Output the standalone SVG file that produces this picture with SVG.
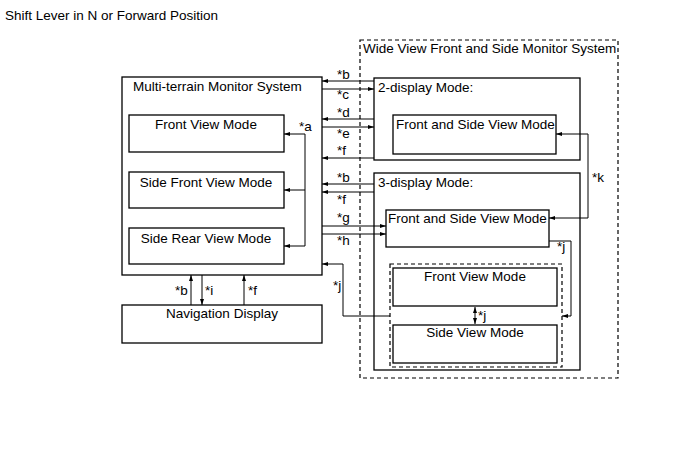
<svg xmlns="http://www.w3.org/2000/svg" width="690" height="465" viewBox="0 0 690 465">
<defs>
<marker id="ah" viewBox="0 0 6 4" refX="6" refY="2" markerWidth="6" markerHeight="4" markerUnits="userSpaceOnUse" orient="auto">
<path d="M0,0 L6,2 L0,4 Z" fill="#000"/>
</marker>
</defs>
<style>
text{font-family:"Liberation Sans",Arial,sans-serif;font-size:13.5px;fill:#000}
.box{fill:#fff;stroke:#000;stroke-width:1.3}
.dash{fill:none;stroke:#000;stroke-width:1.2;stroke-dasharray:4,3}
.ln{fill:none;stroke:#000;stroke-width:1}
.arr{fill:none;stroke:#000;stroke-width:1;marker-end:url(#ah)}
.mid{text-anchor:middle}
</style>
<rect width="690" height="465" fill="#fff"/>
<text x="5" y="20">Shift Lever in N or Forward Position</text>

<g id="wide-view-system">
<rect class="dash" x="360" y="40" width="258" height="338"/>
<text x="363" y="53">Wide View Front and Side Monitor System</text>
</g>

<g id="multi-terrain">
<rect class="box" x="122" y="77" width="200" height="198"/>
<text x="133" y="91">Multi-terrain Monitor System</text>
</g>
<g id="mt-front-view">
<rect class="box" x="129" y="115" width="155" height="37"/>
<text class="mid" x="206" y="129">Front View Mode</text>
</g>
<g id="mt-side-front-view">
<rect class="box" x="129" y="172" width="155" height="36"/>
<text class="mid" x="206" y="187">Side Front View Mode</text>
</g>
<g id="mt-side-rear-view">
<rect class="box" x="129" y="228" width="155" height="36"/>
<text class="mid" x="206" y="243">Side Rear View Mode</text>
</g>

<g id="two-display">
<rect class="box" x="374" y="78" width="206" height="82"/>
<text x="378" y="92">2-display Mode:</text>
</g>
<g id="two-front-side">
<rect class="box" x="393" y="115" width="163" height="39"/>
<text x="396" y="129">Front and Side View Mode</text>
</g>

<g id="three-display">
<rect class="box" x="374" y="173" width="206" height="197"/>
<text x="378" y="187">3-display Mode:</text>
</g>
<g id="three-front-side">
<rect class="box" x="386" y="210" width="163" height="37"/>
<text x="388" y="223">Front and Side View Mode</text>
</g>
<g id="three-group">
<rect class="dash" x="390" y="264" width="172" height="103"/>
</g>
<g id="three-front-view">
<rect class="box" x="393" y="268" width="164" height="38"/>
<text class="mid" x="475" y="281">Front View Mode</text>
</g>
<g id="three-side-view">
<rect class="box" x="393" y="325" width="164" height="38"/>
<text class="mid" x="475" y="337">Side View Mode</text>
</g>

<g id="navigation">
<rect class="box" x="122" y="305" width="200" height="38"/>
<text class="mid" x="222" y="318">Navigation Display</text>
</g>

<g id="connectors">
<path class="ln" d="M305,134 V246"/>
<path class="arr" d="M305,134 H284"/>
<path class="arr" d="M305,190 H284"/>
<path class="arr" d="M305,246 H284"/>
<text x="299" y="131">*a</text>
<path class="arr" d="M374,81 H322"/>
<text x="337" y="79">*b</text>
<path class="arr" d="M322,89 H374"/>
<text x="337" y="99">*c</text>
<path class="arr" d="M374,119 H322"/>
<text x="337" y="117">*d</text>
<path class="arr" d="M322,127 H374"/>
<text x="337" y="138">*e</text>
<path class="arr" d="M374,158 H322"/>
<text x="337" y="155">*f</text>
<path class="arr" d="M374,184 H322"/>
<text x="337" y="182">*b</text>
<path class="arr" d="M374,192 H322"/>
<text x="337" y="204">*f</text>
<path class="arr" d="M322,226 H386"/>
<text x="337" y="222">*g</text>
<path class="arr" d="M322,234 H386"/>
<text x="337" y="245">*h</text>
<path class="arr" d="M390,316 H343 V264 H322"/>
<text x="333" y="290">*j</text>
<path class="arr" d="M588,176 V134 H556"/>
<path class="arr" d="M588,176 V218 H549"/>
<text x="592" y="182">*k</text>
<path class="arr" d="M549,241 H571 V316 H562"/>
<text x="557" y="251">*j</text>
<path class="arr" d="M475,315 V307"/>
<path class="arr" d="M475,315 V324"/>
<text x="478" y="320">*j</text>
<path class="arr" d="M191,305 V275"/>
<text x="175" y="295">*b</text>
<path class="arr" d="M202,275 V305"/>
<text x="205" y="295">*i</text>
<path class="arr" d="M244,305 V275"/>
<text x="248" y="295">*f</text>
</g>
</svg>
